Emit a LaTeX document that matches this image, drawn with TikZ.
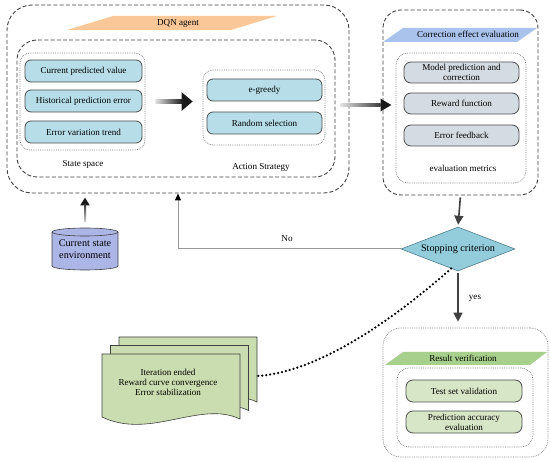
\documentclass[tikz,border=0pt]{standalone}
\usepackage{fontspec}
\setmainfont{Liberation Serif}
\usetikzlibrary{shapes.geometric, arrows.meta, calc}

\definecolor{stateblue}{HTML}{B7DEE8}
\definecolor{corrgray}{HTML}{D5DBE3}
\definecolor{resgreen}{HTML}{D7E6C6}
\definecolor{docgreen}{HTML}{CADDB0}
\definecolor{diamondc}{HTML}{93CDDC}
\definecolor{diamondl}{HTML}{4F7F8C}
\definecolor{cylc}{HTML}{ABB6E6}
\definecolor{orangeb}{HTML}{FAC898}
\definecolor{blueb}{HTML}{A9C3EC}
\definecolor{greenb}{HTML}{A8D08D}
\definecolor{dkgray}{HTML}{404040}
\definecolor{midgray}{HTML}{808080}
\definecolor{boxline}{HTML}{4D4D4D}
\definecolor{noline}{HTML}{9A9A9A}
\definecolor{shaftlight}{HTML}{E2E2E2}
\definecolor{shaftdark}{HTML}{1A1A1A}

\begin{document}
\begin{tikzpicture}[x=1pt, y=-1pt,
  font=\fontsize{9.1}{10.2}\selectfont,
  outerdash/.style={draw=dkgray, line width=0.9, dash pattern=on 4pt off 2.2pt, rounded corners=25, inner sep=0},
  dotbox/.style={draw=midgray, line width=0.7, dash pattern=on 0.8pt off 1pt, rounded corners=10, inner sep=0},
  item/.style={draw=boxline, line width=0.8, rounded corners=6, inner sep=0.5, align=center},
  stateitem/.style={item, fill=stateblue, minimum width=117, minimum height=22},
  actitem/.style={item, fill=stateblue, minimum width=115, minimum height=22},
  corritem/.style={item, fill=corrgray, rounded corners=7, minimum width=115, minimum height=21},
  resitem/.style={item, fill=resgreen, rounded corners=7, minimum width=116, minimum height=22},
  bigfont/.style={font=\fontsize{10.2}{12}\selectfont},
  tipA/.style={draw=shaftdark, line width=3.5, -{Triangle[length=11, width=18]}},
  tipB/.style={draw=shaftdark, line width=2.5, -{Triangle[length=11, width=12]}},
  tipC/.style={draw=shaftdark, line width=2, -{Triangle[length=8, width=9]}},
  darrow/.style={draw=dkgray, line width=1.6, -{Triangle[length=9, width=9]}},
  noarrow/.style={draw=noline, line width=1, -{Triangle[length=7, width=6, color=black]}},
  dotcurve/.style={draw=black, line width=2.5, line cap=round, dash pattern=on 0pt off 4pt},
  docstyle/.style={fill=docgreen, draw=dkgray, line width=0.6}
]
\useasboundingbox (0,0) rectangle (550,462);

% ---------------- DQN agent ----------------
\node[outerdash, minimum width=342, minimum height=188] (dqn) at (178,99) {};
\fill[orangeb] (67,30) -- (113,16) -- (277,16) -- (231,30) -- cycle;
\node (dqnlbl) at (178,23) {DQN agent};
\node[outerdash, rounded corners=20, minimum width=318, minimum height=137] (dqnin) at (176,108.5) {};
\node[dotbox, minimum width=125, minimum height=97] (ss) at (82.5,101.5) {};
\node[dotbox, minimum width=122, minimum height=75] (as) at (264,107.5) {};
\node[stateitem] (cpv) at (83.5,71) {Current predicted value};
\node[stateitem] (hpe) at (83.5,101) {Historical prediction error};
\node[stateitem] (evt) at (83.5,132) {Error variation trend};
\node[actitem] (eg) at (264.5,90) {e-greedy};
\node[actitem] (rs) at (264.5,123) {Random selection};
\node (sslbl) at (83,164) {State space};
\node (aslbl) at (261,167) {Action Strategy};

% ---------------- Correction effect evaluation ----------------
\node[outerdash, rounded corners=18, minimum width=155, minimum height=185] (corr) at (460.5,102.5) {};
\fill[blueb] (383,42) -- (403,28) -- (537,28) -- (517,42) -- cycle;
\node (corrlbl) at (468,34) {Correction effect evaluation};
\node[dotbox, rounded corners=12, minimum width=130, minimum height=130] (corrin) at (461,118) {};
\node[corritem] (mpc) at (461.5,72.5) {Model prediction and\\correction};
\node[corritem] (rf) at (461.5,103.5) {Reward function};
\node[corritem] (ef) at (461.5,135.5) {Error feedback};
\node (emlbl) at (463,168) {evaluation metrics};

% ---------------- Stopping criterion ----------------
\node[diamond, aspect=2.6, fill=diamondc, draw=diamondl, line width=0.6, inner sep=0,
      minimum width=114, minimum height=44, bigfont] (stop) at (458,249) {Stopping criterion};

% ---------------- Result verification ----------------
\node[dotbox, rounded corners=18, minimum width=165, minimum height=129] (res) at (465.5,392.5) {};
\fill[greenb] (385,365) -- (403,352) -- (547,352) -- (530,365) -- cycle;
\node (reslbl) at (463,358) {Result verification};
\node[dotbox, rounded corners=12, minimum width=136, minimum height=79] (resin) at (465,407.5) {};
\node[resitem] (tsv) at (464,391) {Test set validation};
\node[resitem] (pae) at (464,422) {Prediction accuracy\\evaluation};

% ---------------- Current state environment (cylinder) ----------------
\path[fill=cylc, draw=dkgray, line width=0.6]
  (52,232) -- (52,266) arc[start angle=180, end angle=0, x radius=33, y radius=4]
  -- (118,232) arc[start angle=0, end angle=-180, x radius=33, y radius=4] -- cycle;
\draw[dkgray, line width=0.6] (52,232) arc[start angle=180, end angle=0, x radius=33, y radius=4];
\node[minimum width=66, minimum height=42, inner sep=0, align=center, bigfont] (env) at (85,249) {Current state\\environment};

% ---------------- Document stack ----------------
\foreach \dx/\dy in {17/-17, 8.5/-8.5, 0/0} {
  \filldraw[docstyle, shift={(\dx,\dy)}] (102,354) -- (240,354) -- (240,419)
    .. controls (200,400) and (150,440) .. (102,417) -- cycle;
}
\node[align=center, inner sep=0] (docs) at (168,382.5) {Iteration ended\\Reward curve convergence\\Error stabilization};
\coordinate (docR) at (257,376);

% ---------------- Connectors ----------------
% state space -> action strategy (gradient shaft)
\draw[tipA, shorten <=24, shorten >=10] (ss.east) -- (ss.east -| as.west);
\shade[left color=shaftlight, right color=shaftdark]
  ($(ss.east)+(10,-1.75)$) rectangle ($(ss.east -| as.west)+(-20,1.75)$);
% DQN agent -> correction effect evaluation
\coordinate (a1) at ($(dqn.east)+(0,6)$);
\draw[tipB, shorten <=21, shorten >=-9] (a1) -- (a1 -| corr.west);
\shade[left color=shaftlight, right color=shaftdark!85]
  ($(a1)+(-9,-1.25)$) rectangle ($(a1 -| corr.west)+(-2,1.25)$);
% environment -> DQN agent
\draw[tipC, shorten <=14, shorten >=4] (env.north) -- (env.north |- dqn.south);
\shade[bottom color=shaftlight!80!gray, top color=shaftdark!85]
  ($(env.north)+(-1,-6)$) rectangle ($(env.north |- dqn.south)+(1,11)$);
% correction -> stopping criterion
\draw[darrow, shorten <=2, shorten >=2] (corr.south) -- (stop.north);
% stopping criterion -> result (yes)
\draw[darrow, shorten <=2, shorten >=6] (stop.south) -- (stop.south |- res.north);
\node (yeslbl) at (475,298) {yes};
% stopping criterion -> DQN agent (No)
\draw[noarrow] (stop.west) -| (dqn.south);
\node (nolbl) at (287,239) {No};
% dotted link to the document stack
\draw[dotcurve] ($(stop.south)!0.12!(stop.west)$) .. controls (395,318) and (320,372) .. (docR);
\end{tikzpicture}
\end{document}
